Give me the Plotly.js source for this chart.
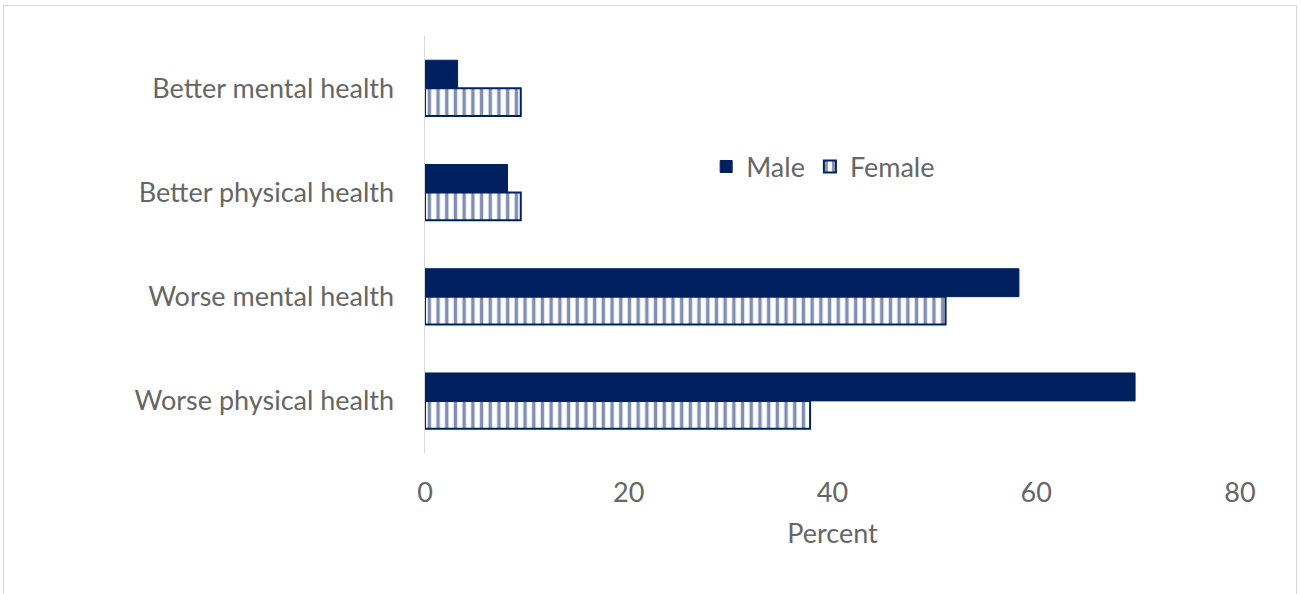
<!DOCTYPE html>
<html>
<head>
<meta charset="utf-8">
<script src="https://cdn.plot.ly/plotly-3.0.1.min.js"></script>
<style>
  html, body { margin:0; padding:0; background:#fff; overflow:hidden; }
  #wrap { position:relative; width:1301px; height:594px; }
  #chart { position:absolute; left:0; top:0; width:1301px; height:594px; }
  #frame { position:absolute; left:3px; top:5px; width:1292px; height:640px; border:1.5px solid #d9d9d9; pointer-events:none; }
</style>
</head>
<body>
<div id="wrap"><div id="chart"></div><div id="frame"></div></div>
<script>
const categories = ["Better mental health", "Better physical health", "Worse mental health", "Worse physical health"];
const maleValues = [3.2, 8.1, 58.3, 69.7];
const femaleValues = [9.4, 9.4, 51.1, 37.8];
const seriesNames = ["Male", "Female"];
const xTicks = [0, 20, 40, 60, 80];

const navy = "#002060";
const grey = "#666666";
const font = "Lato, Noto Sans, sans-serif";

const traces = [
  {
    type: "bar", orientation: "h", name: seriesNames[0],
    y: categories, x: maleValues,
    marker: { color: navy, line: { color: navy, width: 1 } },
    hoverinfo: "x+y"
  },
  {
    type: "bar", orientation: "h", name: seriesNames[1],
    y: categories, x: femaleValues,
    marker: {
      color: "#ffffff",
      line: { color: navy, width: 2 },
      pattern: { shape: "|", fgcolor: navy, bgcolor: "#ffffff", size: 8.7, solidity: 0.4, fillmode: "overlay" }
    },
    hoverinfo: "x+y"
  }
];

const layout = {
  width: 1301, height: 594,
  margin: { l: 425, r: 61, t: 36, b: 141 },
  paper_bgcolor: "#ffffff", plot_bgcolor: "#ffffff",
  barmode: "group", bargap: 0.465, bargroupgap: 0,
  font: { family: font, color: grey, size: 27 },
  showlegend: true,
  legend: {
    orientation: "h", x: 0.345, y: 0.686, xanchor: "left", yanchor: "middle",
    font: { family: font, size: 27, color: grey },
    bgcolor: "rgba(0,0,0,0)", itemwidth: 30, traceorder: "normal"
  },
  xaxis: {
    range: [0, 80], tickvals: xTicks, ticktext: xTicks.map(String),
    showgrid: false, zeroline: false, showline: false,
    ticks: "outside", ticklen: 16, tickcolor: "rgba(0,0,0,0)",
    tickfont: { family: font, size: 27, color: grey },
    title: { text: "Percent", font: { family: font, size: 27, color: grey }, standoff: 16 },
    fixedrange: true
  },
  yaxis: {
    type: "category", categoryorder: "array", categoryarray: categories,
    autorange: "reversed",
    showgrid: false, zeroline: false,
    showline: true, linecolor: "#d9d9d9", linewidth: 1.5,
    ticks: "outside", ticklen: 24, tickcolor: "rgba(0,0,0,0)",
    tickfont: { family: font, size: 27, color: grey },
    fixedrange: true
  }
};

Plotly.newPlot("chart", traces, layout, { displayModeBar: false, staticPlot: true });
</script>
</body>
</html>
